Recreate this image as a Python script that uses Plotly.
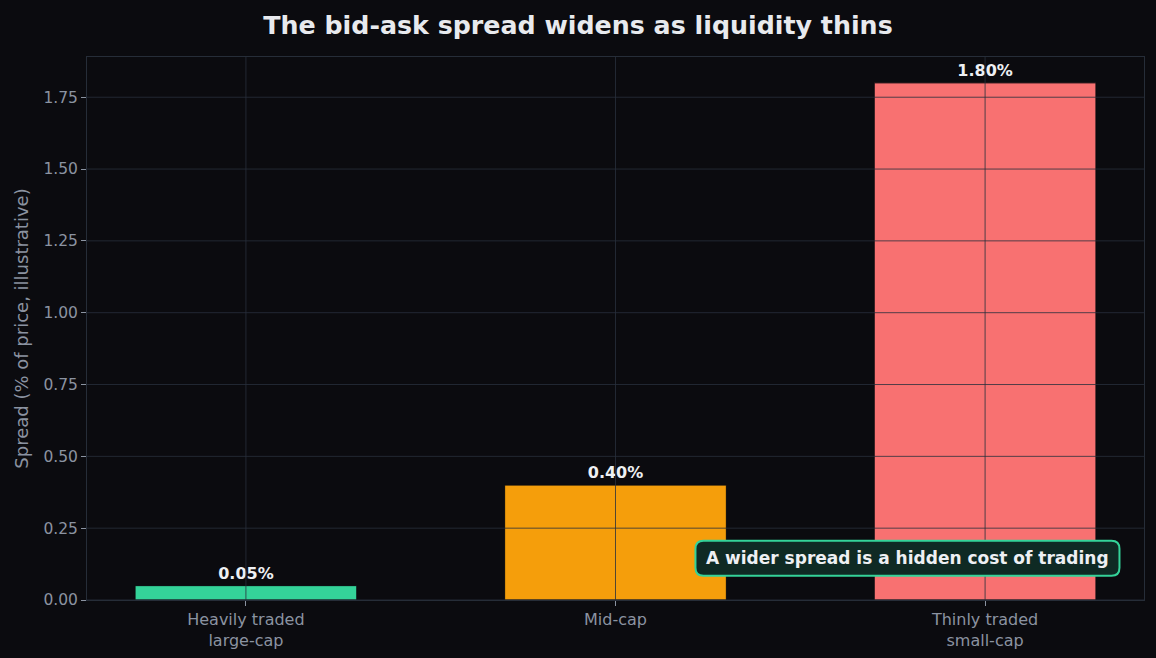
import plotly.graph_objects as go

categories = ["Heavily traded<br>large-cap", "Mid-cap", "Thinly traded<br>small-cap"]
spreads = [0.05, 0.40, 1.80]
bar_colors = ["#34d399", "#f59e0b", "#f87171"]
value_labels = ["0.05%", "0.40%", "1.80%"]
y_ticks = [0.0, 0.25, 0.5, 0.75, 1.0, 1.25, 1.5, 1.75]
note_text = "A wider spread is a hidden cost of trading"
note_pos = (1.79, 0.145)

BG = "#0b0b0f"
GRID = "rgba(40,48,60,0.8)"
AXIS_LINE = "#262d38"
TICK_COL = "#8b93a1"
FONT = "DejaVu Sans"

x_idx = list(range(len(categories)))

fig = go.Figure()
fig.add_trace(go.Bar(
    x=x_idx, y=spreads, width=0.6,
    marker=dict(color=bar_colors, line=dict(color=BG, width=1)),
    text=[f"<b>{v}</b>" for v in value_labels], textposition="outside", cliponaxis=False,
    textfont=dict(family=FONT, size=16, color="#eef0f3"),
    hoverinfo="skip",
))

shapes = []
for t in y_ticks:
    shapes.append(dict(type="line", xref="paper", yref="y", x0=0, x1=1, y0=t, y1=t,
                       line=dict(color=GRID, width=1), layer="above"))
for i in x_idx:
    shapes.append(dict(type="line", xref="x", yref="paper", x0=i, x1=i, y0=0, y1=1,
                       line=dict(color=GRID, width=1), layer="above"))

# rounded box behind the note (pixel-sized, anchored at the note position)
w, h, r = 212, 17.5, 8
path = (f"M {-w + r},{-h} L {w - r},{-h} Q {w},{-h} {w},{-h + r} "
        f"L {w},{h - r} Q {w},{h} {w - r},{h} L {-w + r},{h} Q {-w},{h} {-w},{h - r} "
        f"L {-w},{-h + r} Q {-w},{-h} {-w + r},{-h} Z")
shapes.append(dict(type="path", xref="x", yref="y", xsizemode="pixel", ysizemode="pixel",
                   xanchor=note_pos[0], yanchor=note_pos[1], path=path,
                   fillcolor="#0f2a24", line=dict(color="#34d399", width=2), layer="above"))

fig.update_layout(
    width=1156, height=658,
    paper_bgcolor=BG, plot_bgcolor=BG,
    margin=dict(l=87, r=12, t=57, b=58),
    showlegend=False,
    title=dict(text="<b>The bid-ask spread widens as liquidity thins</b>",
               x=0.5, xanchor="center", y=0.962, yanchor="middle",
               font=dict(family=FONT, size=25.3, color="#e8eaee")),
    font=dict(family=FONT, color=TICK_COL),
    shapes=shapes,
    annotations=[dict(
        x=note_pos[0], y=note_pos[1], xref="x", yref="y",
        text=f"<b>{note_text}</b>",
        showarrow=False, font=dict(family=FONT, size=17, color="#eef0f3"),
    )],
)
fig.update_xaxes(
    range=[-0.43, 2.43], tickmode="array", tickvals=x_idx, ticktext=categories,
    showgrid=False, zeroline=False, automargin=False,
    showline=True, linecolor=AXIS_LINE, linewidth=1, mirror=True,
    ticks="outside", ticklen=5, tickcolor=TICK_COL, tickwidth=1,
    tickfont=dict(family=FONT, size=16, color=TICK_COL),
)
fig.update_yaxes(
    range=[0, 1.89], tickmode="array", tickvals=y_ticks,
    ticktext=[f"{t:.2f}" for t in y_ticks],
    showgrid=False, zeroline=False, automargin=False,
    showline=True, linecolor=AXIS_LINE, linewidth=1, mirror=True,
    ticks="outside", ticklen=5, tickcolor=TICK_COL, tickwidth=1,
    tickfont=dict(family=FONT, size=15.5, color=TICK_COL),
    title=dict(text="Spread (% of price, illustrative)", standoff=10,
               font=dict(family=FONT, size=18, color=TICK_COL)),
)

fig.write_html("out.html")
